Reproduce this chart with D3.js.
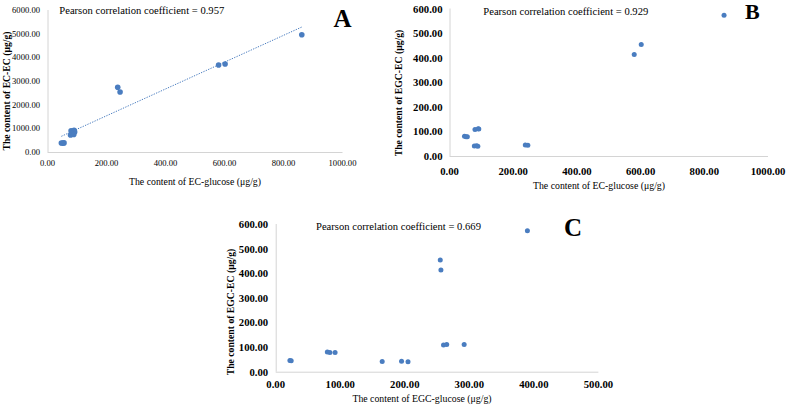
<!DOCTYPE html>
<html><head><meta charset="utf-8">
<script src="https://cdn.jsdelivr.net/npm/d3@7"></script>
<style>
body{margin:0;background:#fff}
svg{display:block}
svg text{font-family:"Liberation Serif","Times New Roman",Times,serif;fill:#000}
</style>
</head><body>
<svg id="chart" width="787" height="405" font-family="Liberation Serif, Times New Roman, serif"></svg>
<script>
// ---- data (14 samples) ----
const ecGlucose  = [47, 52, 56, 80, 90, 92, 78, 85, 89, 238, 246, 580, 602, 862];
const ecEc       = [380, 375, 385, 900, 920, 850, 720, 780, 740, 2733, 2535, 3676, 3718, 4956];
const egcEc      = [80, 78, 78, 108, 111, 110, 41, 42, 40, 45, 44, 413, 454, 573];
const egcGlucose = [80, 84, 92, 260, 265, 292, 165, 195, 205, 22, 24, 256, 255, 390];

const ticksA_x = [0, 200, 400, 600, 800, 1000];
const ticksA_y = [0, 1000, 2000, 3000, 4000, 5000, 6000];
const ticksB_x = [0, 200, 400, 600, 800, 1000];
const ticksBC_y = [0, 100, 200, 300, 400, 500, 600];
const ticksC_x = [0, 100, 200, 300, 400, 500];

const panelLetters = ["A", "B", "C"];
const pearsonValues = ["0.957", "0.929", "0.669"];
const xTitles = ["The content of EC-glucose (\u03bcg/g)", "The content of EC-glucose (\u03bcg/g)", "The content of EGC-glucose (\u03bcg/g)"];
const yTitles = ["The content of EC-EC (\u03bcg/g)", "The content of EGC-EC (\u03bcg/g)", "The content of EGC-EC (\u03bcg/g)"];

// ---- layout ----
const panels = [
  {xs: ecGlucose, ys: ecEc, xd: [0, 1000], yd: [0, 6000], xt: ticksA_x, yt: ticksA_y,
   xr: [47.5, 342.5], yr: [152, 10], tickSize: 8.6, tickWeight: "normal", xLabOff: 10.5, yLabOff: 7.5,
   r: 2.8, trend: true,
   letter: {x: 342.5, y: 26.7, size: 25}, pearson: {x: 59.3, y: 10.8},
   xTitle: {x: 195, y: 181.7}, yTitle: {x: 6.5, y: 91}},
  {xs: ecGlucose, ys: egcEc, xd: [0, 1000], yd: [0, 600], xt: ticksB_x, yt: ticksBC_y,
   xr: [449.5, 768], yr: [156, 8.5], tickSize: 10.7, tickWeight: "bold", xLabOff: 14.5, yLabOff: 7,
   r: 2.5, trend: false,
   letter: {x: 752.3, y: 19.2, size: 22}, pearson: {x: 483.3, y: 11},
   xTitle: {x: 599, y: 185}, yTitle: {x: 398.3, y: 93}},
  {xs: egcGlucose, ys: egcEc, xd: [0, 500], yd: [0, 600], xt: ticksC_x, yt: ticksBC_y,
   xr: [275.7, 598.4], yr: [371.7, 224], tickSize: 10.7, tickWeight: "bold", xLabOff: 12.6, yLabOff: 7.5,
   r: 2.5, trend: false,
   letter: {x: 573, y: 236, size: 25}, pearson: {x: 316, y: 226.7},
   xTitle: {x: 422, y: 398.3}, yTitle: {x: 230, y: 312}}
];

const dotColor = "#4a7dc0";
const axisColor = "#d4d4d4";
const serif = "Liberation Serif, Times New Roman, serif";
const fmt = d3.format(".2f");

const svg = d3.select("#chart");
svg.append("rect").attr("width", 787).attr("height", 405).attr("fill", "#fff");

panels.forEach((p, i) => {
  const x = d3.scaleLinear().domain(p.xd).range(p.xr);
  const y = d3.scaleLinear().domain(p.yd).range(p.yr);
  const g = svg.append("g").attr("font-family", serif);

  // axis lines
  g.append("line").attr("x1", x(p.xd[0])).attr("x2", x(p.xd[1]))
    .attr("y1", y(p.yd[0]) + 0.5).attr("y2", y(p.yd[0]) + 0.5)
    .attr("stroke", axisColor).attr("stroke-width", 1);
  g.append("line").attr("x1", x(p.xd[0]) + 0.5).attr("x2", x(p.xd[0]) + 0.5)
    .attr("y1", y(p.yd[0])).attr("y2", y(p.yd[1]))
    .attr("stroke", axisColor).attr("stroke-width", 1);

  // tick labels
  g.selectAll(".xl").data(p.xt).join("text")
    .attr("x", d => x(d)).attr("y", y(p.yd[0]) + p.xLabOff)
    .attr("text-anchor", "middle").attr("dominant-baseline", "central")
    .attr("font-size", p.tickSize).attr("font-weight", p.tickWeight)
    .text(d => fmt(d));
  g.selectAll(".yl").data(p.yt).join("text")
    .attr("x", x(p.xd[0]) - p.yLabOff).attr("y", d => y(d))
    .attr("text-anchor", "end").attr("dominant-baseline", "central")
    .attr("font-size", p.tickSize).attr("font-weight", p.tickWeight)
    .text(d => fmt(d));

  // trend line (least squares)
  if (p.trend) {
    const n = p.xs.length;
    const mx = d3.mean(p.xs), my = d3.mean(p.ys);
    let sxy = 0, sxx = 0;
    for (let k = 0; k < n; k++) { sxy += (p.xs[k] - mx) * (p.ys[k] - my); sxx += (p.xs[k] - mx) ** 2; }
    const b = sxy / sxx, a = my - b * mx;
    const [x0, x1] = d3.extent(p.xs);
    g.append("line")
      .attr("x1", x(x0)).attr("y1", y(a + b * x0))
      .attr("x2", x(x1)).attr("y2", y(a + b * x1))
      .attr("stroke", dotColor).attr("stroke-width", 1)
      .attr("stroke-dasharray", "1.3,1.3");
  }

  // points
  g.selectAll("circle").data(p.xs.map((v, k) => [v, p.ys[k]])).join("circle")
    .attr("cx", d => x(d[0])).attr("cy", d => y(d[1])).attr("r", p.r)
    .attr("fill", dotColor);

  // texts
  g.append("text").attr("x", p.pearson.x).attr("y", p.pearson.y)
    .attr("dominant-baseline", "central").attr("font-size", 10.6)
    .text("Pearson correlation coefficient = " + pearsonValues[i]);
  g.append("text").attr("x", p.letter.x).attr("y", p.letter.y)
    .attr("text-anchor", "middle").attr("font-size", p.letter.size).attr("font-weight", "bold")
    .text(panelLetters[i]);
  g.append("text").attr("x", p.xTitle.x).attr("y", p.xTitle.y)
    .attr("text-anchor", "middle").attr("dominant-baseline", "central")
    .attr("font-size", 9.8).text(xTitles[i]);
  g.append("text")
    .attr("transform", `translate(${p.yTitle.x},${p.yTitle.y}) rotate(-90)`)
    .attr("text-anchor", "middle").attr("dominant-baseline", "central")
    .attr("font-size", 9.7).attr("font-weight", "bold").text(yTitles[i]);
});
</script>
</body></html>
